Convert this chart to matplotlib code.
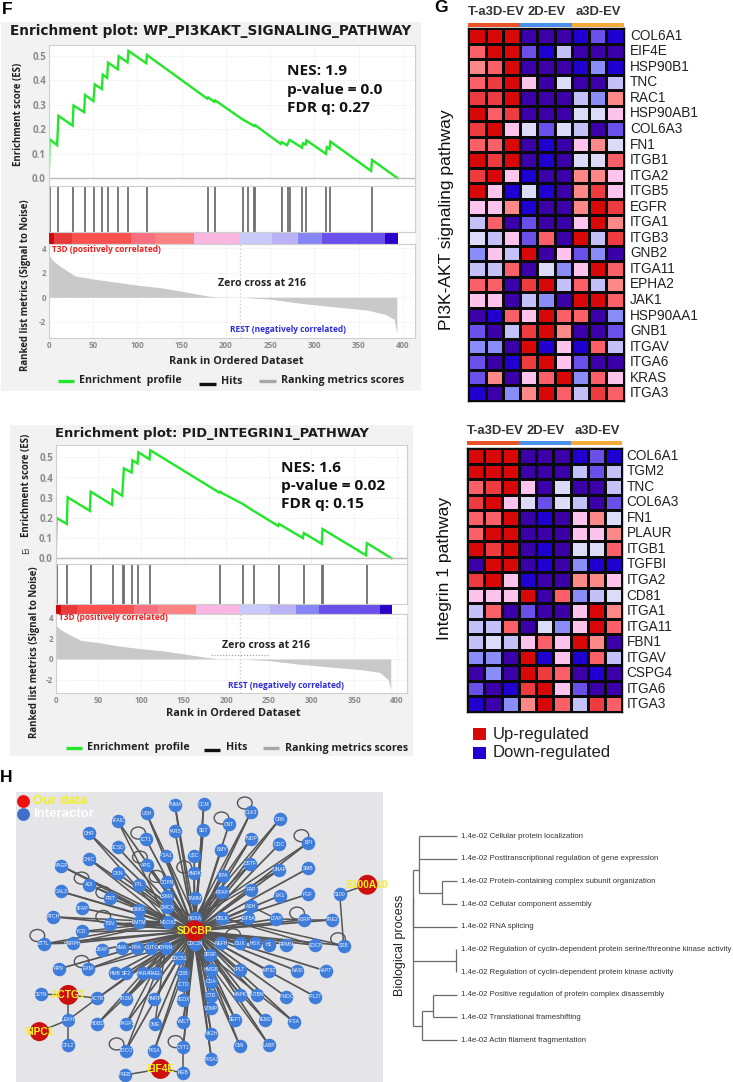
import matplotlib
matplotlib.use("Agg")
import numpy as np
import matplotlib.pyplot as plt
from matplotlib.colors import ListedColormap
from matplotlib.patches import Ellipse, Rectangle

W, H = 733, 1082
plt.rcParams["font.family"] = ["Open Sans", "DejaVu Sans"]

### GSEA data
ranks_1 = [0, 1, 9.5, 11, 27, 28, 40, 41, 50.5, 52, 60, 61, 66, 67, 78, 79, 89, 90, 110, 111, 179, 180, 187, 188,
           219, 225, 232, 233, 262, 263, 269, 272, 286, 287, 290, 291, 313, 314, 317, 318, 364, 365, 394]
es_1 = [0, 0.16, 0.135, 0.255, 0.215, 0.297, 0.27, 0.34, 0.315, 0.383, 0.365, 0.423, 0.41, 0.472, 0.445, 0.498,
        0.473, 0.52, 0.47, 0.503, 0.325, 0.33, 0.312, 0.318, 0.24, 0.228, 0.213, 0.217, 0.14, 0.148, 0.135, 0.157,
        0.125, 0.143, 0.138, 0.155, 0.1, 0.127, 0.12, 0.15, 0.03, 0.075, 0]
hits_1 = [1, 10.5, 27.5, 40.6, 51, 60, 66.5, 78.6, 89.5, 110.5, 180, 187.6, 219.5, 225, 232, 232.6, 263, 270, 272,
          286, 291, 313.5, 318, 365]
ranks_2 = [0, 1, 13, 14, 40, 41, 66, 67, 78, 80, 89, 90, 96, 97, 110, 111, 192, 193, 195, 219, 233, 234, 261, 262,
           290, 291, 312, 313, 364, 365, 394]
es_2 = [0, 0.2, 0.17, 0.302, 0.235, 0.33, 0.265, 0.34, 0.31, 0.445, 0.425, 0.485, 0.47, 0.525, 0.49, 0.535, 0.325,
        0.33, 0.323, 0.27, 0.232, 0.23, 0.16, 0.17, 0.1, 0.125, 0.072, 0.145, 0.015, 0.075, 0]
hits_2 = [1, 13.7, 41, 67, 79.4, 80, 89.5, 97, 111, 193, 220, 233, 262, 291, 312.6, 313.4, 365]

metric_x = [0, 5, 10, 20, 30, 50, 75, 100, 125, 150, 180, 190, 216, 250, 285, 325, 360, 380, 390, 393]
metric_1 = [3.5, 3.0, 2.7, 2.2, 1.75, 1.5, 1.25, 1.0, 0.8, 0.5, 0.1, 0.03, 0, -0.15, -0.5, -0.8, -1.05, -1.4, -1.8, -3.0]
metric_2 = [3.3, 2.9, 2.65, 2.2, 1.8, 1.6, 1.25, 1.0, 0.8, 0.5, 0.12, 0.03, 0, -0.15, -0.5, -0.8, -1.05, -1.3, -2.0, -3.0]

band_edges_1 = [0, 6, 26, 92.5, 120, 164, 216, 252, 282, 309, 380, 394]
band_edges_2 = [0, 6, 25, 92, 120, 164, 216, 251, 282, 309, 380, 394]
band_colors = ["#c80a0a", "#e83a3a", "#fb5050", "#f87080", "#fd8282", "#f9b6e0",
               "#c9c9fa", "#b9b2f5", "#8585f5", "#6a50ea", "#2a00c8"]

### Heatmap data, level 0 (strong down) to 10 (strong up)
heat_levels = ["#2000d0", "#3c00a8", "#6a50e8", "#8a8cf8", "#c4c0f8", "#dcdcf8",
               "#fcc4ec", "#fd8888", "#fb5f68", "#ee3b40", "#d80808"]
genes_pi3k = ["COL6A1", "EIF4E", "HSP90B1", "TNC", "RAC1", "HSP90AB1", "COL6A3", "FN1", "ITGB1", "ITGA2", "ITGB5",
              "EGFR", "ITGA1", "ITGB3", "GNB2", "ITGA11", "EPHA2", "JAK1", "HSP90AA1", "GNB1", "ITGAV", "ITGA6",
              "KRAS", "ITGA3"]
heat_pi3k = [
    [10, 10, 10, 1, 1, 1, 0, 2, 0],
    [8, 10, 10, 2, 0, 4, 1, 1, 1],
    [7, 8, 10, 1, 1, 1, 0, 3, 0],
    [8, 9, 10, 6, 1, 5, 1, 1, 4],
    [9, 9, 10, 1, 1, 1, 4, 3, 7],
    [10, 8, 9, 1, 1, 1, 5, 5, 6],
    [9, 10, 6, 5, 2, 5, 4, 1, 2],
    [8, 8, 10, 1, 0, 1, 6, 7, 5],
    [10, 9, 10, 1, 0, 1, 5, 5, 8],
    [9, 10, 6, 0, 1, 1, 7, 7, 6],
    [10, 6, 0, 5, 0, 1, 7, 9, 6],
    [6, 6, 7, 0, 1, 1, 7, 10, 9],
    [4, 8, 1, 2, 1, 1, 6, 10, 7],
    [5, 4, 6, 2, 8, 1, 10, 4, 9],
    [3, 6, 4, 10, 1, 6, 2, 3, 1],
    [4, 4, 8, 1, 5, 3, 6, 10, 8],
    [8, 8, 1, 9, 10, 4, 8, 4, 7],
    [6, 6, 1, 4, 3, 1, 10, 10, 8],
    [1, 0, 8, 6, 10, 8, 8, 1, 3],
    [2, 1, 4, 9, 10, 7, 1, 1, 2],
    [3, 3, 1, 10, 0, 6, 0, 8, 4],
    [2, 1, 0, 9, 10, 6, 2, 1, 1],
    [2, 7, 1, 6, 8, 10, 3, 8, 6],
    [0, 1, 3, 7, 10, 8, 4, 9, 8],
]
genes_itg = ["COL6A1", "TGM2", "TNC", "COL6A3", "FN1", "PLAUR", "ITGB1", "TGFBI", "ITGA2", "CD81", "ITGA1", "ITGA11",
             "FBN1", "ITGAV", "CSPG4", "ITGA6", "ITGA3"]
heat_itg = [
    [10, 10, 10, 1, 1, 1, 0, 2, 0],
    [10, 10, 10, 1, 1, 1, 4, 2, 4],
    [8, 9, 10, 6, 1, 5, 1, 1, 4],
    [9, 10, 6, 5, 2, 5, 4, 1, 2],
    [8, 8, 10, 1, 0, 1, 6, 7, 5],
    [8, 10, 10, 1, 1, 1, 6, 6, 7],
    [10, 9, 10, 1, 0, 1, 5, 5, 8],
    [1, 10, 10, 1, 0, 1, 3, 0, 0],
    [9, 10, 6, 0, 1, 1, 7, 7, 6],
    [6, 6, 6, 10, 1, 8, 3, 4, 5],
    [4, 8, 1, 2, 1, 1, 6, 10, 7],
    [4, 4, 8, 1, 5, 3, 6, 10, 8],
    [4, 5, 4, 6, 8, 6, 10, 7, 1],
    [3, 3, 1, 10, 0, 6, 0, 8, 4],
    [1, 3, 1, 10, 9, 8, 1, 0, 1],
    [2, 1, 0, 9, 10, 6, 2, 1, 1],
    [0, 1, 3, 7, 10, 8, 4, 9, 8],
]
groups = ["T-a3D-EV", "2D-EV", "a3D-EV"]
group_colors = ["#e8532a", "#4a90e8", "#f5ab3c"]

### Network data
node_labels = ["PNMA", "OCM", "CLK3", "USH", "CRK", "NFAIC", "CNT", "HARS", "SET", "DHR", "ICT1", "PNDP", "BPI", "ODC",
               "SCSD", "BMY", "IFSA1", "USC", "CHIC", "MAGP", "APG", "DSTF", "UNAP", "SMB", "CKN", "HNRK", "TIPA",
               "FTL", "COPN", "ADI", "GAL3", "RTAP", "FAP", "PRT", "LSMA", "TAMM", "EK1", "PGF", "SFAP", "DIMG",
               "GMCX", "ASH", "HOXA", "ATCH", "DBLK", "EIF5A", "LTAP", "FSRP", "TRE2", "TSN", "EMTM", "MEOX2", "YCD",
               "ZTTL", "HNRPH", "UBAP", "NMA", "RYA", "CUTC", "DYNN", "CDC34", "NEFH", "DUX", "HOX", "H1", "RRMN",
               "EDCP", "SSB", "CDC51", "SRSF", "RP9", "EXM", "HMB", "SF2", "HARA", "RAEL", "CDB", "HMGB", "LPLT",
               "MP32", "NASI", "NAPT", "CDA", "ICTD", "CTD", "ACTB", "TR2M", "HNRP", "MEDX", "MAPK", "UTBN", "SYNDC",
               "IPL27", "VDMP", "HDBD", "MAGP2", "OME", "YMLT", "SEPT", "REM2", "IFSA", "NK2H", "TDCO", "T4SA",
               "CYT1", "CMI", "LABP", "T4SA2"]
node_x = [525, 612, 753, 440, 840, 353, 688, 525, 610, 268, 438, 753, 925, 838, 353, 665, 497, 583, 268, 183, 440, 752,
          838, 925, 353, 583, 669, 416, 502, 268, 183, 668, 755, 331, 500, 586, 840, 925, 245, 416, 502, 755, 586, 160,
          667, 745, 830, 912, 998, 331, 416, 505, 245, 132, 218, 305, 365, 410, 454, 497, 584, 665, 720, 765, 808, 860,
          946, 1032, 538, 632, 177, 265, 345, 378, 430, 466, 550, 635, 720, 808, 892, 978, 635, 550, 634, 292, 378, 463,
          550, 720, 772, 858, 946, 635, 292, 378, 465, 550, 707, 795, 882, 635, 378, 463, 550, 720, 808, 635]
node_y = [105, 104, 128, 131, 148, 153, 163, 184, 182, 191, 208, 207, 219, 224, 232, 240, 258, 258, 268, 288, 286, 282,
          300, 296, 310, 310, 318, 345, 338, 345, 365, 367, 360, 385, 380, 385, 378, 373, 415, 420, 413, 410, 445, 441,
          445, 445, 447, 450, 450, 462, 458, 457, 485, 522, 520, 540, 533, 534, 534, 534, 522, 520, 520, 520, 524, 524,
          526, 527, 565, 555, 597, 597, 610, 610, 610, 610, 610, 600, 600, 603, 603, 603, 635, 645, 677, 685, 687, 687,
          690, 675, 675, 680, 680, 715, 762, 762, 763, 755, 750, 750, 756, 792, 842, 842, 832, 828, 826, 868]
side_labels = ["S100", "DSTN", "PLEKH2", "CFL2", "F4EB", "I4EB"]
side_x = [1020, 122, 205, 205, 375, 550]
side_y = [373, 673, 750, 826, 915, 908]
hub_labels = ["SDCBP", "S100A10", "ACTG1", "SIPC1", "EIF4E"]
hub_x = [584, 1103, 205, 118, 482]
hub_y = [483, 345, 675, 785, 897]
hub_sizes = [230, 205, 205, 190, 205]
side_edges = [("S100A10", "S100"), ("S100", "SSB"), ("ACTG1", "DSTN"), ("ACTG1", "ACTB"), ("ACTG1", "PLEKH2"),
              ("SIPC1", "PLEKH2"), ("PLEKH2", "CFL2"), ("PLEKH2", "ACTB"), ("EIF4E", "F4EB"), ("EIF4E", "I4EB"),
              ("I4EB", "CYT1"), ("FSRP", "TRE2"), ("ZTTL", "HNRPH")]
# second-level links that make the middle of the network so dense
dense_edges = [("MEOX2", "ZTTL"), ("MEOX2", "YCD"), ("MEOX2", "ADI"), ("MEOX2", "GAL3"), ("MEOX2", "CHIC"),
               ("MEOX2", "HNRPH"), ("MEOX2", "ATCH"), ("MEOX2", "MAGP"), ("MEOX2", "DHR"), ("MEOX2", "NFAIC"),
               ("MEOX2", "TSN"), ("DYNN", "EXM"), ("DYNN", "ACTB"), ("DYNN", "TR2M"), ("DYNN", "TDCO"), ("DYNN", "HDBD"),
               ("DYNN", "MAGP2"), ("DYNN", "OME"), ("CDC34", "T4SA"), ("CDC34", "NK2H"), ("CDC34", "SEPT"),
               ("CDC34", "CMI"), ("CDC34", "LABP"), ("CDC34", "REM2"), ("CDC34", "IFSA"), ("CDC34", "YMLT"),
               ("CDC34", "CYT1"), ("CDC34", "T4SA2"), ("HOXA", "CRK"), ("HOXA", "BPI"), ("HOXA", "UNAP"),
               ("HOXA", "CLK3"), ("HOXA", "SET"), ("HOXA", "OCM"), ("HOXA", "PNDP"), ("HOXA", "DSTF"), ("HOXA", "FTL"),
               ("HOXA", "USH"), ("HOXA", "PNMA"), ("LTAP", "FSRP"), ("LTAP", "ASH"), ("DBLK", "EDCP"), ("DBLK", "SSB")]
loop_x = [735, 665, 415, 905, 420, 553, 470, 245, 310, 310, 892, 112, 1015, 245, 700, 350, 527]
loop_y = [100, 145, 190, 198, 262, 292, 320, 325, 368, 440, 430, 497, 507, 575, 495, 822, 815]

### Dendrogram data
terms = ["Cellular protein localization", "Posttranscriptional regulation of gene expression",
         "Protein-containing complex subunit organization", "Cellular component assembly", "RNA splicing",
         "Regulation of cyclin-dependent protein serine/threonine kinase activity",
         "Regulation of cyclin-dependent protein kinase activity", "Positive regulation of protein complex disassembly",
         "Translational frameshifting", "Actin filament fragmentation"]
term_pval = "1.4e-02"
tree_segments = [(88, 0, 200, 0), (88, 1, 200, 1), (88, 0, 88, 2.5), (88, 2.5, 155, 2.5), (155, 2, 155, 3),
                 (155, 2, 200, 2), (155, 3, 200, 3), (70, 1.5, 88, 1.5), (70, 1.5, 70, 4), (70, 4, 200, 4),
                 (68, 2.75, 68, 8.4), (68, 5.5, 198, 5.5), (198, 5, 198, 6), (68, 8.4, 97, 8.4), (97, 7.7, 97, 9),
                 (97, 9, 200, 9), (97, 7.7, 130, 7.7), (130, 7, 130, 8), (130, 7, 200, 7), (130, 8, 200, 8)]


def px_axes(fig, x0, y0, x1, y1, **kw):
    return fig.add_axes([x0 / W, 1 - y1 / H, (x1 - x0) / W, (y1 - y0) / H], **kw)


def gsea_panel(fig, page, box, ranks, es, hits, metric, edges, lay):
    x_left, x_right = box["x0"], box["x400"]
    scale = (x_right - x_left) / 400.0
    xlim = (0, (box["right"] - x_left) / scale)

    ax = px_axes(fig, x_left, box["top"], box["right"], box["es_bottom"])
    ax.set_xlim(xlim)
    ax.set_ylim(-(box["es_bottom"] - box["es0"]) / box["es_unit"], (box["es0"] - box["top"]) / box["es_unit"])
    ax.plot(ranks, es, color="#22e62a", lw=1.7, solid_joinstyle="miter")
    ax.axhline(0, color="#bbbbbb", lw=1)
    ax.set_xticks(np.arange(0, 401, 50))
    ax.set_xticklabels([])
    ax.set_yticks(np.arange(0, 0.51, 0.1))
    ax.set_yticklabels(["%.1f" % v for v in np.arange(0, 0.51, 0.1)], color="#8a8a8a", fontsize=7.0,
                       fontweight="bold")
    ax.tick_params(length=0, pad=2)
    ax.grid(color="#e6e6e6", ls=":", lw=0.7)

    hit_ax = px_axes(fig, x_left, box["es_bottom"], box["right"], box["band_top"])
    hit_ax.set_xlim(xlim)
    hit_ax.set_ylim(0, 1)
    hit_ax.vlines(hits, 0, 1, color="#6e6e6e", lw=1.3)
    hit_ax.set_xticks([])
    hit_ax.set_yticks([])

    band_ax = px_axes(fig, x_left, box["band_top"], box["right"], box["band_bottom"])
    band_ax.set_xlim(xlim)
    band_ax.set_ylim(0, 1)
    for i, c in enumerate(band_colors):
        band_ax.axvspan(edges[i], edges[i + 1], color=c, lw=0)
    band_ax.set_xticks([])
    band_ax.set_yticks([])

    m_ax = px_axes(fig, x_left, box["band_bottom"], box["right"], box["bottom"])
    m_ax.set_xlim(xlim)
    m_ax.set_ylim((box["m0"] - box["bottom"]) / box["m_unit"], (box["m0"] - box["band_bottom"]) / box["m_unit"])
    m_ax.fill_between(metric_x, metric, 0, color="#c9c9c9", lw=0)
    m_ax.axvline(216, color="#cccccc", ls=":", lw=1)
    m_ax.set_xticks(np.arange(0, 401, 50))
    m_ax.set_yticks([-2, 0, 2, 4])
    m_ax.set_xticklabels(np.arange(0, 401, 50), color="#8a8a8a", fontsize=5.8, fontweight="bold")
    m_ax.set_yticklabels(["-2", "0", "2", "4"], color="#8a8a8a", fontsize=5.8, fontweight="bold")
    m_ax.tick_params(length=0, pad=2)
    m_ax.grid(color="#e6e6e6", ls=":", lw=0.7)

    for a in (ax, hit_ax, band_ax, m_ax):
        a.set_axisbelow(True)
        for s in a.spines.values():
            s.set_color("#cfcfcf")
            s.set_linewidth(0.8)
    band_ax.spines["left"].set_visible(False)
    band_ax.spines["right"].set_visible(False)

    page.text(lay["title"][0], lay["title"][1], lay["title_text"], ha="center", va="center", fontsize=lay["title_fs"],
              fontweight="bold", family="DejaVu Sans", color="#1c1c1c")
    for (tx, ty), line in zip(lay["nes_xy"], lay["nes"]):
        page.text(tx, ty, line, ha="left", va="center", fontsize=11.1, fontweight="bold", color="#111111")
    page.text(lay["es_label"][0], lay["es_label"][1], "Enrichment score (ES)", rotation=90, ha="center", va="center",
              fontsize=6.9, fontweight="bold", color="#222222")
    page.text(lay["m_label"][0], lay["m_label"][1], "Ranked list metrics (Signal to Noise)", rotation=90, ha="center",
              va="center", fontsize=6.9, fontweight="bold", color="#222222")
    page.text(lay["xlabel"][0], lay["xlabel"][1], "Rank in Ordered Dataset", ha="center", va="center", fontsize=7.8,
              fontweight="bold", color="#222222")
    page.text(lay["t3d"][0], lay["t3d"][1], "T3D (positively correlated)", ha="left", va="center", fontsize=6.0,
              fontweight="bold", color="#ee2020")
    page.text(lay["rest"][0], lay["rest"][1], "REST (negatively correlated)", ha="left", va="center", fontsize=6.0,
              fontweight="bold", color="#2b2be0")
    page.text(lay["zero"][0], lay["zero"][1], "Zero cross at 216", ha="left", va="center", fontsize=7.6,
              fontweight="bold", color="#222222")

    g, b, r = lay["legend"]
    page.plot([g[0], g[1]], [g[2], g[2]], color="#22e62a", lw=2.4, solid_capstyle="butt")
    page.text(g[3], g[2], "Enrichment  profile", va="center", fontsize=7.7, fontweight="bold", color="#222222")
    page.plot([b[0], b[1]], [b[2], b[2]], color="#111111", lw=2.4, solid_capstyle="butt")
    page.text(b[3], b[2] - 2.5, "Hits", va="center", fontsize=7.7, fontweight="bold", color="#222222")
    page.plot([r[0], r[1]], [r[2], r[2]], color="#a8a8a8", lw=2.4, solid_capstyle="butt")
    page.text(r[3], r[2], "Ranking metrics scores", va="center", fontsize=7.7, fontweight="bold", color="#222222")


def heatmap_panel(fig, page, box, genes, values, label, label_xy, head_x, head_y, bar_y, gene_x):
    ax = px_axes(fig, box[0], box[1], box[2], box[3])
    cmap = ListedColormap(heat_levels)
    ax.pcolormesh(np.array(values), cmap=cmap, vmin=-0.5, vmax=10.5, edgecolors="#0a0a0a", linewidth=1.0)
    ax.set_ylim(len(genes), 0)
    ax.set_xticks([])
    ax.set_yticks([])
    for s in ax.spines.values():
        s.set_color("#0a0a0a")
        s.set_linewidth(1.0)
    ys = np.linspace(box[1], box[3], len(genes) + 1)
    for i, g in enumerate(genes):
        page.text(gene_x, (ys[i] + ys[i + 1]) / 2, g, va="center", ha="left", fontsize=9.8, family="Liberation Sans",
                  color="#222222")
    xs = np.linspace(box[0], box[2], 4)
    for i, name in enumerate(groups):
        page.text(head_x[i], head_y, name, va="center", ha="left", fontsize=9.4, fontweight="bold",
                  family="Liberation Sans", color="#333333")
        page.add_patch(Rectangle((xs[i], bar_y), xs[i + 1] - xs[i], 3.6, color=group_colors[i], lw=0))
    page.text(label_xy[0], label_xy[1], label, rotation=90, va="center", ha="center", fontsize=12.6,
              family="Liberation Sans", color="#111111")


def draw_network(fig):
    ax = px_axes(fig, 16, 792, 383, 1082)
    ax.set_xlim(48, 1150)
    ax.set_ylim(936, 67)
    ax.set_facecolor("#e5e4e6")
    for s in ax.spines.values():
        s.set_visible(False)
    ax.set_xticks([])
    ax.set_yticks([])

    where = {}
    for name, x, y in zip(node_labels + side_labels + hub_labels, node_x + side_x + hub_x, node_y + side_y + hub_y):
        where[name] = (x, y)
    hx, hy = where["SDCBP"]
    for x, y in zip(node_x, node_y):
        ax.plot([hx, x], [hy, y], color="#555555", lw=1.25, zorder=1)
    for a, b in side_edges + dense_edges:
        ax.plot([where[a][0], where[b][0]], [where[a][1], where[b][1]], color="#555555", lw=1.1, zorder=1)
    for x, y in zip(loop_x, loop_y):
        ax.add_patch(Ellipse((x, y), 44, 36, fill=False, ec="#555555", lw=1.0, zorder=1))

    ax.scatter(node_x + side_x, node_y + side_y, s=95, color="#3f7ddb", lw=0, zorder=2)
    ax.scatter(hub_x, hub_y, s=hub_sizes, color="#cc0f0f", lw=0, zorder=3)
    for name, x, y in zip(node_labels + side_labels, node_x + side_x, node_y + side_y):
        ax.text(x, y, name, ha="center", va="center", fontsize=3.6, color="#f4f6ff", zorder=4,
                family="Liberation Sans")
    for name, x, y in zip(hub_labels, hub_x, hub_y):
        ax.text(x, y, name, ha="center", va="center", fontsize=7.4, fontweight="bold", color="#f6f01e", zorder=5,
                family="Liberation Sans", clip_on=False)

    ax.scatter([68], [93], s=85, color="#ee0f0f", lw=0, zorder=3)
    ax.scatter([68], [133], s=85, color="#3f6fc8", lw=0, zorder=3)
    ax.text(100, 93, "Our data", va="center", fontsize=9.5, fontweight="bold", color="#f6f01e", family="Liberation Sans")
    ax.text(100, 133, "Interactor", va="center", fontsize=9.5, fontweight="bold", color="white",
            family="Liberation Sans")


def draw_tree(fig, page):
    # leaf 0 sits at y=836, leaves are 22.67 px apart
    ax = px_axes(fig, 390, 825, 460, 1051)
    ax.set_xlim(0, 210)
    ax.set_ylim((1051 - 836) / 22.67, (825 - 836) / 22.67)
    ax.axis("off")
    for x0, y0, x1, y1 in tree_segments:
        ax.plot([x0, x1], [y0, y1], color="#6a6a6a", lw=0.9, solid_capstyle="butt")
    for i, t in enumerate(terms):
        page.text(460.7, 836 + i * 22.67, term_pval + " " + t, va="center", ha="left", fontsize=5.6,
                  family="Liberation Sans", color="#333333")
    page.text(400, 945, "Biological process", rotation=90, va="center", ha="center", fontsize=9.0,
              family="Liberation Sans", color="#222222")


fig = plt.figure(figsize=(W / 100, H / 100), dpi=100, facecolor="white")

back = px_axes(fig, 0, 0, W, H, zorder=-1)
back.set_xlim(0, W)
back.set_ylim(H, 0)
back.axis("off")
back.add_patch(Rectangle((1, 22), 420, 369, color="#f2f2f2", lw=0))
back.add_patch(Rectangle((10, 425), 403, 331, color="#f2f2f2", lw=0))

page = px_axes(fig, 0, 0, W, H, zorder=10)
page.set_xlim(0, W)
page.set_ylim(H, 0)
page.axis("off")

box_1 = dict(x0=48.7, x400=403, right=415, top=45, es0=178.3, es_unit=245.0, es_bottom=186, band_top=232,
             band_bottom=244, m0=297.3, m_unit=12.2, bottom=338)
lay_1 = dict(title=(211, 30.7), title_text="Enrichment plot: WP_PI3KAKT_SIGNALING_PATHWAY", title_fs=9.85,
             nes_xy=[(287, 71), (287, 90), (287, 108)], nes=["NES: 1.9", "p-value = 0.0", "FDR q: 0.27"],
             es_label=(19, 114), m_label=(26, 285), xlabel=(236, 362), t3d=(52, 250),
             rest=(230, 330), zero=(218, 284),
             legend=((58, 74, 381, 79), (199, 216, 384, 221), (259, 276, 381, 281)))
gsea_panel(fig, page, box_1, ranks_1, es_1, hits_1, metric_1, band_edges_1, lay_1)

box_2 = dict(x0=55.7, x400=396.7, right=407, top=445, es0=558.3, es_unit=202.0, es_bottom=564.3, band_top=604,
             band_bottom=613.7, m0=659, m_unit=10.3, bottom=693.3)
lay_2 = dict(title=(212, 433.3), title_text="Enrichment plot: PID_INTEGRIN1_PATHWAY", title_fs=9.36,
             nes_xy=[(280.7, 467.7), (280.7, 486), (280.7, 503.7)], nes=["NES: 1.6", "p-value = 0.02", "FDR q: 0.15"],
             es_label=(27, 485), m_label=(35, 652), xlabel=(233, 713), t3d=(59, 618),
             rest=(228, 686), zero=(222, 645),
             legend=((66, 82, 747.7, 87), (204, 220, 750, 226), (263, 279, 748, 285)))
gsea_panel(fig, page, box_2, ranks_2, es_2, hits_2, metric_2, band_edges_2, lay_2)
page.text(27, 550, "Ei", rotation=90, ha="center", va="center", fontsize=6.5, color="#333333")
page.plot([211, 268], [655, 655], color="#999999", ls=":", lw=0.8)

heatmap_panel(fig, page, (468.3, 28, 623.7, 401), genes_pi3k, heat_pi3k, "PI3K-AKT signaling pathway", (447, 220),
              [467.7, 528, 576], 12, 23.3, 630)
heatmap_panel(fig, page, (467, 448, 622.3, 712), genes_itg, heat_itg, "Integrin 1 pathway", (445, 568),
              [466.7, 526.7, 574.7], 430.7, 441.3, 626.7)

page.add_patch(Rectangle((472.7, 728), 13, 12, color="#d80808", lw=0))
page.add_patch(Rectangle((472.7, 746.7), 13, 12, color="#2000d0", lw=0))
page.text(492.7, 734, "Up-regulated", va="center", fontsize=12, family="Liberation Sans", color="#222222")
page.text(492.7, 752, "Down-regulated", va="center", fontsize=12, family="Liberation Sans", color="#222222")

draw_network(fig)
draw_tree(fig, page)

for letter, x, y in [("F", 2, 10), ("G", 434, 8), ("H", 0, 778)]:
    page.text(x, y, letter, va="center", ha="left", fontsize=12.5, fontweight="bold", family="Liberation Sans",
              color="black")

fig.savefig("out.png", dpi=100)
